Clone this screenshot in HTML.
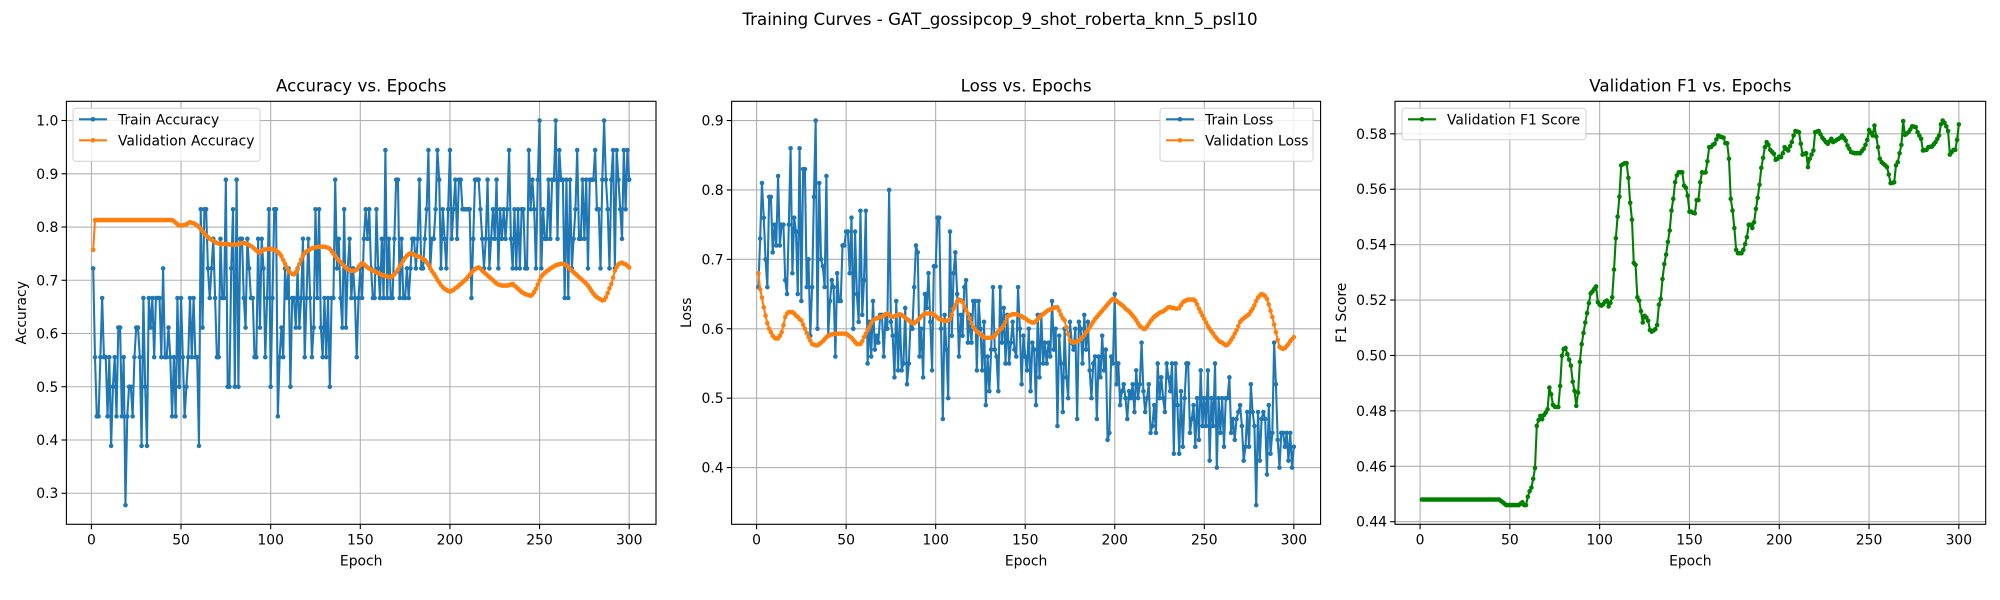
<!DOCTYPE html>
<html><head><meta charset="utf-8">
<style>
html,body{margin:0;padding:0;background:#fff;}
svg{display:block;font-family:"DejaVu Sans","Liberation Sans",sans-serif;}
</style></head>
<body>
<svg id="fig" width="2000" height="600" viewBox="0 0 2000 600" xmlns="http://www.w3.org/2000/svg">
<rect width="2000" height="600" fill="#fff"/>
<text x="1000" y="25" text-anchor="middle" font-size="16.7" fill="#000">Training Curves - GAT_gossipcop_9_shot_roberta_knn_5_psl10</text>
</svg>
<script>
// ---------- data ----------
const epochs = Array.from({length:300},(_,i)=>i+1);
const trainAccCorrectOf18 = [13,10,8,8,10,12,10,10,8,10,7,9,10,8,11,11,8,10,5,8,9,9,8,10,11,11,10,7,12,9,7,12,11,12,10,12,12,12,10,13,10,10,11,10,8,10,8,12,9,12,10,8,9,10,12,10,12,10,10,7,15,11,15,15,13,12,13,14,12,10,10,14,12,12,16,9,9,13,15,9,16,9,14,14,12,11,14,13,12,12,10,10,14,11,14,13,10,12,15,9,12,15,15,8,10,11,10,13,12,13,9,12,12,11,13,11,12,14,10,12,14,12,10,11,15,12,15,11,10,12,10,12,9,12,12,16,13,14,12,11,15,11,13,14,12,13,12,10,12,13,12,14,15,14,15,13,12,12,15,13,12,14,12,17,12,14,12,12,14,16,16,12,14,12,12,13,12,13,14,14,13,14,16,13,13,14,15,17,13,14,14,15,17,16,13,15,14,13,15,17,14,15,16,14,16,16,15,15,15,15,15,12,14,16,16,16,15,14,13,14,16,13,14,15,14,16,13,15,14,15,14,15,17,14,13,15,13,15,13,15,15,13,13,17,15,16,15,13,16,18,13,15,14,14,16,14,16,16,18,14,17,16,16,12,16,12,16,13,14,15,17,14,14,16,14,16,13,16,16,16,17,15,15,13,16,18,16,15,13,16,17,13,17,16,15,14,17,15,17,16];
const trainAcc = trainAccCorrectOf18.map(k=>k/18);
const valAcc = [.757,
.813,.813,.813,.813,.813,.813,.813,.813,.813,.813,.813,.813,.813,.813,.813,.813,.813,.813,.813,.813,.813,.813,.813,.813,.813,.813,.813,.813,.813,.813,.813,.813,.813,.813,.813,.813,.813,.813,.813,.813,.813,.813,.813,.813,
.811,.808,.805,.803,
.803,.803,.804,.805,.807,.809,.808,
.807,.805,.803,.800,
.796,.792,.788,.784,.781,.778,.776,.774,.772,.770,
.769,.769,.768,.768,.768,.768,.767,.767,.767,.767,
.767,.768,.769,.770,.770,.769,.768,.766,.764,.762,
.759,.756,.753,.752,.755,.757,.758,.758,.759,.759,
.758,.757,.756,.753,.750,.745,.738,.731,.724,.718,
.714,.712,.711,.715,.721,.730,.739,.746,.751,.754,
.756,.758,.760,.761,.762,.762,.763,.763,.763,.763,
.762,.761,.759,.755,.750,.746,.741,.737,.734,.730,
.727,.724,.721,.719,.718,.718,.718,.720,.725,.729,
.732,.730,.727,.724,.722,.720,.718,.717,.715,.713,
.712,.710,.709,.708,.707,.706,.706,.708,.711,.715,
.720,.726,.731,.737,.742,.746,.749,.751,.750,.748,
.746,.745,.744,.742,.740,.738,.734,.729,.723,.717,
.712,.707,.701,.696,.691,.687,.684,.682,.680,.679,
.680,.682,.685,.687,.690,.693,.696,.699,.702,.706,
.710,.714,.718,.721,.723,.724,.722,.718,.715,.712,
.709,.706,.703,.700,.697,.694,.692,.691,.690,.690,
.690,.690,.691,.692,.693,.690,.687,.684,.681,.678,
.676,.674,.673,.672,.671,.673,.678,.684,.692,.700,
.707,.711,.714,.717,.719,.722,.724,.726,.728,.729,
.730,.731,.731,.730,.728,.725,.721,.718,.715,.712,
.709,.706,.703,.700,.697,.694,.690,.685,.680,.675,
.671,.668,.666,.664,.662,.663,.668,.676,.685,.693,
.705,.718,.725,.730,.732,.733,.731,.730,.727,.724];
const trainLoss = [.66,.73,.81,.76,.70,.66,.79,.79,.71,.75,.72,.82,.72,.75,.75,.67,.65,.75,.86,.68,
.76,.74,.65,.86,.64,.83,.83,.66,.70,.59,.66,.79,.90,.60,.81,.70,.69,.66,.82,.59,
.64,.67,.66,.56,.68,.64,.64,.72,.72,.74,.74,.68,.76,.60,.74,.65,.61,.77,.62,.67,
.77,.55,.61,.56,.64,.57,.59,.58,.62,.62,.56,.62,.60,.80,.61,.59,.53,.64,.54,.62,
.54,.55,.63,.52,.55,.61,.60,.66,.72,.71,.56,.60,.53,.65,.63,.68,.61,.54,.69,.69,
.76,.76,.60,.47,.62,.57,.50,.74,.59,.68,.71,.65,.56,.62,.59,.66,.67,.58,.62,.58,
.64,.64,.54,.64,.60,.54,.61,.49,.56,.51,.57,.66,.57,.56,.51,.66,.58,.63,.55,.62,
.55,.58,.61,.57,.56,.66,.60,.52,.59,.56,.54,.60,.51,.58,.57,.49,.62,.53,.62,.55,
.58,.55,.58,.56,.64,.57,.60,.46,.59,.55,.48,.60,.53,.50,.61,.58,.57,.60,.47,.61,
.60,.55,.62,.57,.61,.54,.50,.55,.56,.47,.56,.53,.59,.54,.57,.44,.45,.56,.55,.65,
.52,.55,.49,.51,.52,.50,.47,.51,.50,.52,.48,.54,.50,.52,.58,.51,.48,.50,.52,.45,
.46,.49,.45,.55,.50,.53,.50,.48,.55,.53,.51,.55,.42,.55,.49,.42,.51,.43,.50,.55,
.55,.45,.47,.49,.43,.50,.44,.54,.46,.50,.46,.54,.41,.50,.46,.55,.40,.50,.45,.50,
.43,.50,.50,.53,.45,.47,.44,.47,.48,.49,.46,.41,.43,.48,.43,.52,.48,.46,.346,.48,
.41,.47,.48,.47,.39,.49,.42,.45,.58,.52,.44,.40,.45,.45,.43,.45,.41,.45,.40,.43];
const valLoss = [.680,.657,.645,.631,.619,.608,.600,.595,.590,.587,
.586,.586,.590,.595,.605,.617,.622,.624,.624,.624,
.622,.619,.617,.614,.612,.606,.600,.594,.588,.583,
.578,.577,.576,.576,.578,.580,.582,.585,.588,.590,
.591,.592,.592,.593,.593,.593,.593,.593,.593,.593,
.591,.589,.587,.584,.581,.578,.578,.578,.582,.588,
.593,.598,.603,.608,.612,.614,.615,.616,.617,.617,
.619,.621,.622,.620,.618,.617,.618,.619,.620,.621,
.620,.618,.616,.614,.612,.610,.608,.608,.610,.612,
.615,.618,.620,.622,.622,.622,.622,.622,.620,.618,
.616,.614,.613,.612,.611,.611,.612,.614,.620,.629,
.634,.639,.642,.641,.638,.632,.627,.622,.615,.608,
.602,.599,.596,.594,.592,.590,.588,.587,.587,.587,
.587,.588,.590,.593,.596,.599,.601,.605,.610,.617,
.619,.620,.621,.621,.621,.620,.619,.618,.616,.615,
.613,.611,.610,.609,.609,.611,.614,.617,.619,.621,
.623,.625,.627,.628,.629,.630,.631,.631,.626,.620,
.615,.612,.602,.592,.583,.581,.580,.581,.582,.583,
.585,.588,.591,.595,.598,.602,.606,.610,.614,.617,
.620,.623,.626,.629,.632,.635,.638,.641,.643,.642,
.640,.638,.636,.634,.632,.629,.627,.625,.622,.619,
.616,.612,.608,.604,.602,.600,.600,.603,.607,.611,
.614,.617,.619,.621,.623,.624,.625,.627,.629,.631,
.631,.630,.630,.629,.629,.630,.634,.638,.640,.641,
.642,.642,.642,.642,.640,.635,.629,.624,.619,.614,
.609,.604,.600,.596,.593,.589,.586,.583,.581,.580,
.578,.576,.577,.580,.584,.588,.593,.598,.604,.610,
.613,.615,.617,.619,.621,.625,.629,.634,.640,.645,
.648,.650,.649,.647,.643,.635,.626,.617,.606,.595,
.584,.574,.572,.571,.572,.575,.578,.582,.585,.588];
const valF1 = [.448,.448,.448,.448,.448,.448,.448,.448,.448,.448,.448,.448,.448,.448,.448,.448,.448,.448,.448,.448,.448,.448,.448,.448,.448,.448,.448,.448,.448,.448,.448,.448,.448,.448,.448,.448,.448,.448,.448,.448,.448,.448,.448,.448,
.4475,.447,.4465,.446,.446,.446,.446,.446,.446,.446,.446,.4465,.447,.446,.446,
.449,.451,.4523,.4555,.4594,.4746,.4767,.4782,.477,.4785,
.4794,.4806,.4884,.486,.4822,.4815,.4814,.4814,.489,.4999,
.5023,.5027,.5005,.4985,.4963,.4905,.4872,.4818,.4866,.4977,
.5041,.5081,.5119,.5153,.5189,.5224,.5231,.5240,.5249,.5192,
.5183,.518,.5185,.5194,.5198,.5177,.519,.521,.531,.5423,
.5501,.5573,.5686,.569,.5694,.5694,.5641,.5551,.549,.5334,
.5327,.521,.5198,.516,.5119,.5143,.5137,.5125,.5092,.5086,
.509,.5095,.511,.5183,.5204,.5276,.533,.5364,.541,.5451,
.5523,.5565,.5625,.565,.5661,.5661,.5661,.5613,.5605,.5577,
.5519,.5519,.5515,.5513,.5561,.5561,.5625,.5661,.566,.5661,
.5701,.5752,.5752,.576,.5764,.578,.5794,.579,.5788,.5786,
.5766,.5766,.571,.5565,.5523,.546,.5381,.5369,.5369,.5369,
.5381,.5402,.5427,.5472,.5472,.546,.5481,.5529,.5569,.5616,
.5677,.5713,.5752,.577,.576,.5742,.5735,.5728,.5706,.571,
.5718,.5716,.573,.5752,.5745,.574,.5755,.577,.5794,.581,
.5808,.5806,.5764,.5725,.5728,.573,.568,.571,.5725,.574,
.5806,.5808,.581,.5798,.5786,.5778,.577,.5764,.5773,.5782,
.577,.5774,.5778,.5782,.5786,.5794,.5785,.5776,.5758,.5746,
.5734,.5732,.573,.573,.573,.573,.5738,.5746,.576,.5778,
.5814,.5804,.5794,.583,.579,.5752,.571,.5698,.5692,.5686,
.568,.5653,.5622,.5623,.5625,.5686,.5698,.573,.576,.5846,
.5796,.5801,.5806,.5816,.5827,.5826,.5824,.5806,.5794,.5782,
.574,.5741,.5742,.5752,.5753,.5754,.5762,.577,.5782,.5794,
.5834,.5848,.584,.5827,.581,.5725,.5734,.5742,.5742,.5778,
.5834];
const xTicks = [0,50,100,150,200,250,300];
const accTicks = [0.3,0.4,0.5,0.6,0.7,0.8,0.9,1.0];
const lossTicks = [0.4,0.5,0.6,0.7,0.8,0.9];
const f1Ticks = [0.44,0.46,0.48,0.50,0.52,0.54,0.56,0.58];

// ---------- drawing ----------
const NS = 'http://www.w3.org/2000/svg';
const svg = document.getElementById('fig');
function mk(tag, attrs, parent){
  const e = document.createElementNS(NS, tag);
  for (const k in attrs) e.setAttribute(k, attrs[k]);
  (parent||svg).appendChild(e);
  return e;
}
const TOP = 101.3, BOT = 524.3;

function panel(cfg){
  const g = mk('g', {});
  
  
  const L = cfg.left, R = cfg.right;
  const xmin = 1 - 0.05*299, xmax = 300 + 0.05*299;
  let lo = Infinity, hi = -Infinity;
  cfg.series.forEach(s => s.data.forEach(v => { lo = Math.min(lo, v); hi = Math.max(hi, v); }));
  const m = (hi - lo) * 0.05, ymin = lo - m, ymax = hi + m;
  const X = v => L + (v - xmin) / (xmax - xmin) * (R - L);
  const Y = v => BOT - (v - ymin) / (ymax - ymin) * (BOT - TOP);
  mk('rect', {x:L, y:TOP, width:R-L, height:BOT-TOP, fill:'#fff'}, g);
  // grid + ticks
  xTicks.forEach(t => {
    const x = X(t);
    const gl = mk('line', {x1:x, x2:x, y1:TOP, y2:BOT, stroke:'#b0b0b0', 'stroke-width':1.1}, g);
    
    
    mk('line', {x1:x, x2:x, y1:BOT, y2:BOT+4.9, stroke:'#000', 'stroke-width':1.1}, g);
    const tl = mk('text', {x:x, y:BOT+20, 'text-anchor':'middle', 'font-size':13.9, fill:'#000'}, g);
    tl.textContent = String(t);
    
    
  });
  cfg.yTicks.forEach(t => {
    const y = Y(t);
    const gl = mk('line', {x1:L, x2:R, y1:y, y2:y, stroke:'#b0b0b0', 'stroke-width':1.1}, g);
    
    
    mk('line', {x1:L-4.9, x2:L, y1:y, y2:y, stroke:'#000', 'stroke-width':1.1}, g);
    const tl = mk('text', {x:L-8, y:y+5, 'text-anchor':'end', 'font-size':13.9, fill:'#000'}, g);
    tl.textContent = t.toFixed(cfg.dec);
    
    
  });
  // series
  const clipId = 'clip-' + cfg.name;
  const cp = mk('clipPath', {id:clipId}, g);
  mk('rect', {x:L, y:TOP, width:R-L, height:BOT-TOP}, cp);
  cfg.series.forEach(s => {
    const sg = mk('g', {'clip-path':'url(#'+clipId+')'}, g);
    
    
    const pts = s.data.map((v,i) => X(epochs[i]).toFixed(2) + ',' + Y(v).toFixed(2)).join(' ');
    const pl = mk('polyline', {points:pts, fill:'none', stroke:s.color, 'stroke-width':2.08, 'stroke-linejoin':'round'}, sg);
    
    
    s.data.forEach((v,i) => {
      const c = mk('circle', {cx:X(epochs[i]), cy:Y(v), r:2.3, fill:s.color}, sg);
      
      
    });
  });
  // spines
  mk('rect', {x:L, y:TOP, width:R-L, height:BOT-TOP, fill:'none', stroke:'#000', 'stroke-width':1.1}, g);
  // title & labels
  const ti = mk('text', {x:(L+R)/2, y:TOP-10, 'text-anchor':'middle', 'font-size':16.7, fill:'#000'}, g);
  ti.textContent = cfg.title;
  
  
  const xl = mk('text', {x:(L+R)/2, y:BOT+41, 'text-anchor':'middle', 'font-size':13.9, fill:'#000'}, g);
  xl.textContent = 'Epoch';
  
  
  const yx = cfg.ylabelX, yc = (TOP+BOT)/2;
  const yl = mk('text', {x:yx, y:yc, 'text-anchor':'middle', 'font-size':13.9, fill:'#000', transform:'rotate(-90 '+yx+' '+yc+')'}, g);
  yl.textContent = cfg.ylabel;
  
  
  // legend
  const lg = mk('g', {}, g);
  
  
  const lh = 10 + cfg.series.length * 21.5;
  mk('rect', {x:cfg.legX, y:TOP+7, width:cfg.legW, height:lh, rx:3, fill:'#fff', 'fill-opacity':0.8, stroke:'#d0d0d0', 'stroke-width':1}, lg);
  cfg.series.forEach((s,i) => {
    const cy = TOP + 18 + i*21;
    const e = mk('g', {}, lg);
    
    
    mk('line', {x1:cfg.legX+6, x2:cfg.legX+34, y1:cy, y2:cy, stroke:s.color, 'stroke-width':2.08}, e);
    mk('circle', {cx:cfg.legX+20, cy:cy, r:2.3, fill:s.color}, e);
    const t = mk('text', {x:cfg.legX+45, y:cy+5, 'font-size':13.9, fill:'#000'}, e);
    t.textContent = s.label;
  });
}

panel({name:'accuracy-panel', left:66.4, right:656, title:'Accuracy vs. Epochs', ylabel:'Accuracy', ylabelX:26,
  yTicks:accTicks, dec:1, legX:73, legW:187,
  series:[{key:'train-accuracy', label:'Train Accuracy', color:'#1f77b4', data:trainAcc},
          {key:'validation-accuracy', label:'Validation Accuracy', color:'#ff7f0e', data:valAcc}]});
panel({name:'loss-panel', left:731.6, right:1320.6, title:'Loss vs. Epochs', ylabel:'Loss', ylabelX:691,
  yTicks:lossTicks, dec:1, legX:1160, legW:153,
  series:[{key:'train-loss', label:'Train Loss', color:'#1f77b4', data:trainLoss},
          {key:'validation-loss', label:'Validation Loss', color:'#ff7f0e', data:valLoss}]});
panel({name:'f1-panel', left:1395, right:1985.7, title:'Validation F1 vs. Epochs', ylabel:'F1 Score', ylabelX:1346,
  yTicks:f1Ticks, dec:2, legX:1402, legW:184,
  series:[{key:'validation-f1', label:'Validation F1 Score', color:'#008000', data:valF1}]});
</script>
</body></html>
